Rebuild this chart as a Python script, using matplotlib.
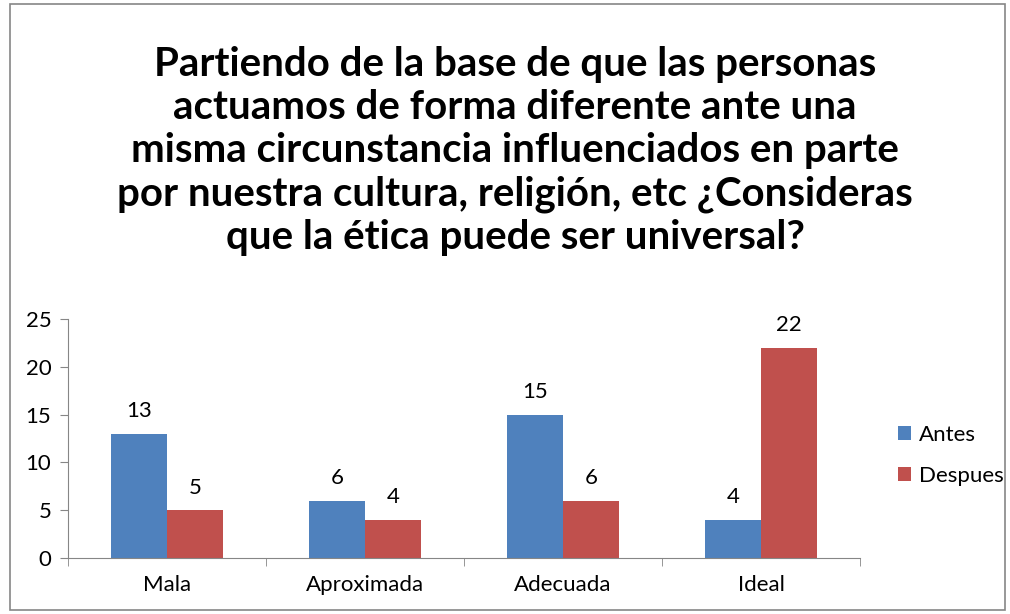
import matplotlib; matplotlib.use('Agg')
import matplotlib.pyplot as plt
import numpy as np
from matplotlib.patches import Rectangle

plt.rcParams['font.family'] = ['Lato', 'DejaVu Sans']

categories = ['Mala', 'Aproximada', 'Adecuada', 'Ideal']
antes = [13, 6, 15, 4]
despues = [5, 4, 6, 22]
title = ("Partiendo de la base de que las personas\n"
         "actuamos de forma diferente ante una\n"
         "misma circunstancia influenciados en parte\n"
         "por nuestra cultura, religión, etc ¿Consideras\n"
         "que la ética puede ser universal?")

W, H = 1010, 614
fig = plt.figure(figsize=(W/100, H/100), dpi=100)
fig.patches.append(Rectangle((10/W, 4/H), 995/W, 606/H, transform=fig.transFigure,
                             fill=False, ec='#868686', lw=1.2))
fig.text(515/W, 1 - 151/H, title, ha='center', va='center', fontsize=29,
         fontweight='bold', linespacing=1.2, color='black')

ax = fig.add_axes([68/W, 1 - 558/H, 792/W, 239/H])
x = np.arange(len(categories))
bw = 0.283
b1 = ax.bar(x - bw/2, antes, bw, color='#4F81BD', label='Antes')
b2 = ax.bar(x + bw/2, despues, bw, color='#C0504D', label='Despues')
for bars, vals in [(b1, antes), (b2, despues)]:
    for r, v in zip(bars, vals):
        ax.text(r.get_x() + r.get_width()/2, v + 1.3, str(v), ha='center', va='bottom', fontsize=16)

ax.set_xlim(-0.5, len(categories) - 0.5)
ax.set_ylim(0, 25)
ax.set_yticks([0, 5, 10, 15, 20, 25])
ax.set_xticks(x)
ax.set_xticklabels(categories)
ax.set_xticks(np.arange(-0.5, len(categories)), minor=True)
ax.tick_params(axis='x', which='major', length=0, pad=12, labelsize=16)
ax.tick_params(axis='x', which='minor', length=6, color='#868686', direction='out')
ax.tick_params(axis='y', length=6, color='#868686', labelsize=16, pad=6)
for s in ['top', 'right']:
    ax.spines[s].set_visible(False)
for s in ['left', 'bottom']:
    ax.spines[s].set_color('#868686')

ax.legend(loc='center left', bbox_to_anchor=(882/792 - 68/792, 0.43), frameon=False,
          fontsize=16, handlelength=0.6, handleheight=0.6, handletextpad=0.35,
          labelspacing=0.95, borderpad=0.2)

fig.savefig('out.png', dpi=100)
